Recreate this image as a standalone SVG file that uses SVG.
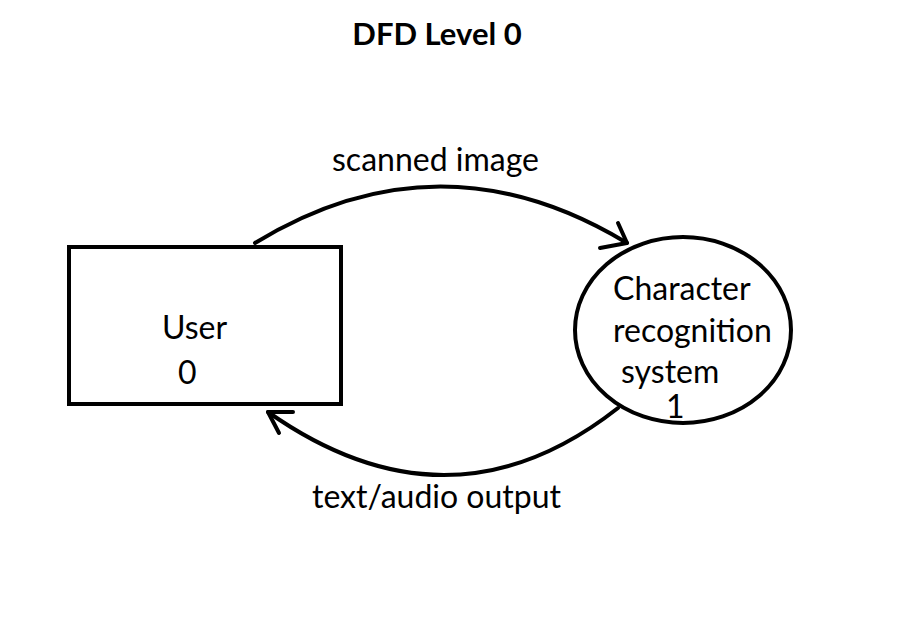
<svg xmlns="http://www.w3.org/2000/svg" width="897" height="618" viewBox="0 0 897 618">
<style>
.t{font-family:Lato,"Liberation Sans",sans-serif;font-size:32px;fill:#000}
.b{font-weight:bold;font-size:31px}
.s{fill:none;stroke:#000;stroke-width:4}
.c{fill:none;stroke:#000;stroke-width:4;stroke-linecap:round;stroke-linejoin:round}
</style>
<rect width="897" height="618" fill="#fff"/>
<text class="t b" x="437" y="45" text-anchor="middle">DFD Level 0</text>
<g id="user">
<rect class="s" x="69" y="247" width="272" height="157"/>
<text class="t" x="162" y="339">User</text>
<text class="t" x="178" y="384">0</text>
</g>
<g id="process">
<ellipse class="s" cx="683" cy="330" rx="108" ry="93"/>
<text class="t" x="613" y="300">Character</text>
<text class="t" x="613" y="342">recognition</text>
<text class="t" x="621" y="383">system</text>
<text class="t" x="666" y="418" font-size="30">1</text>
</g>
<g id="connectors">
<path class="c" d="M255,243 Q440,130 627,243"/>
<path class="c" d="M618,223 L627,243 L600,248"/>
<text class="t" x="332" y="171">scanned image</text>
<path class="c" d="M618,408 Q450,540 268,412"/>
<path class="c" d="M293,412 L268,412 L279,433"/>
<text class="t" x="312" y="508">text/audio output</text>
</g>
</svg>
